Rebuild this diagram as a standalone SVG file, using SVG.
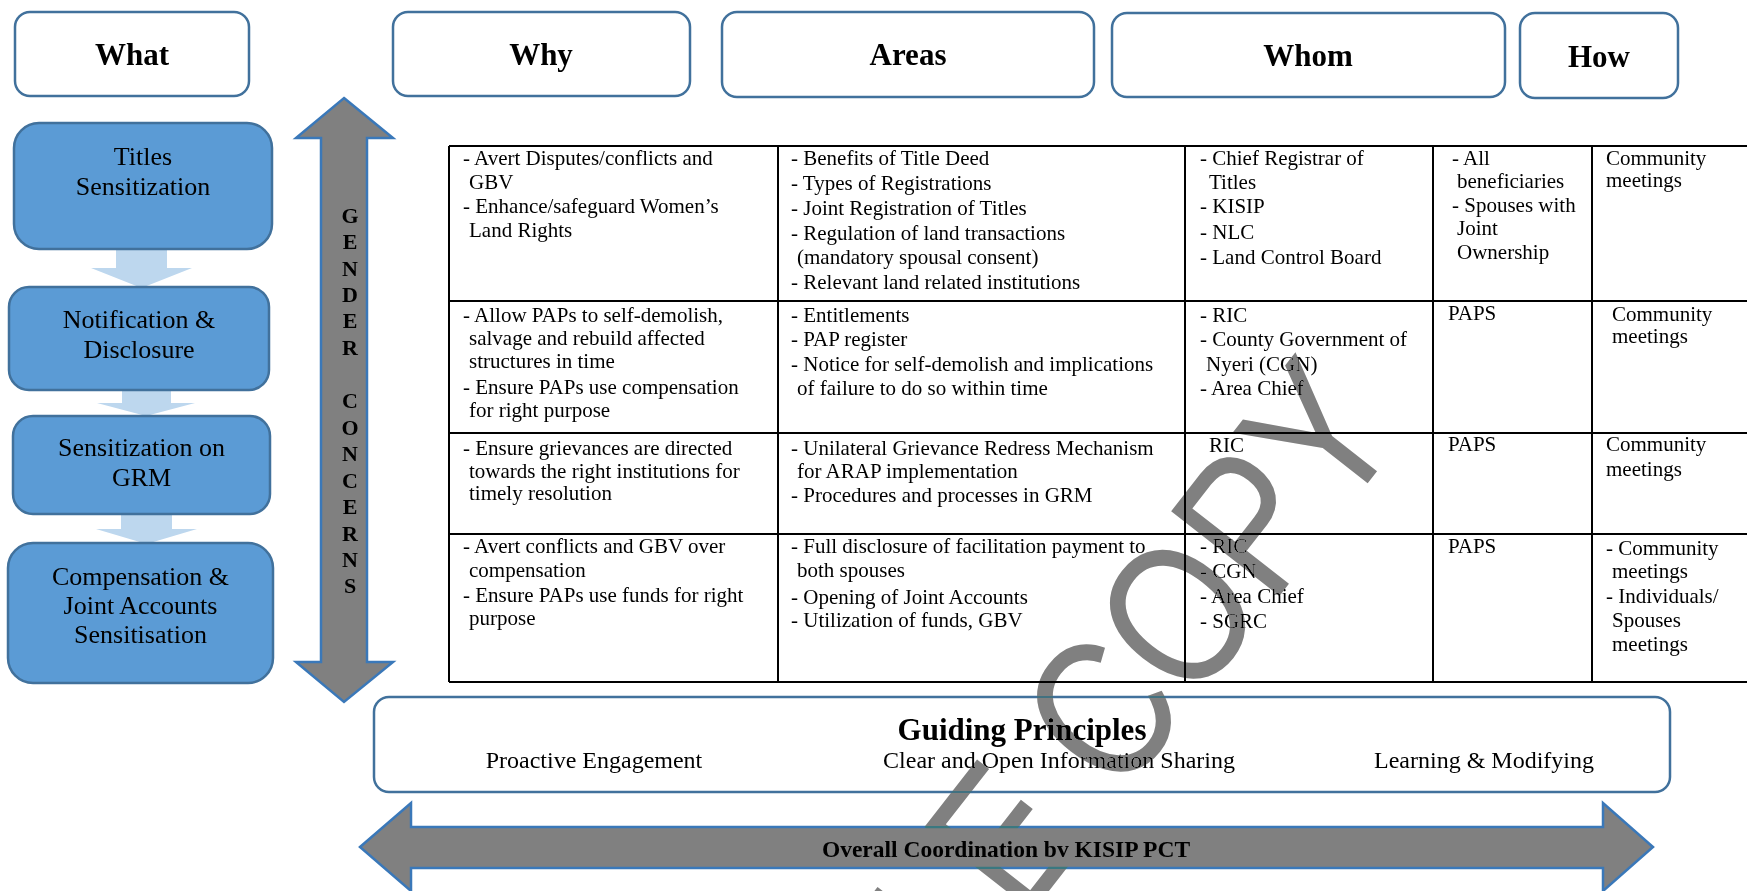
<svg xmlns="http://www.w3.org/2000/svg" width="1747" height="891" viewBox="0 0 1747 891">
  <style>
    .hdr { fill: #ffffff; stroke: #41719C; stroke-width: 2.5; }
    .hdr-t { font-family: "Liberation Serif", "Times New Roman", serif; font-size: 31px; font-weight: bold; text-anchor: middle; fill: #000; }
    .step { fill: #5B9BD5; stroke: #41719C; stroke-width: 2.5; }
    .step-t { font-family: "Liberation Serif", "Times New Roman", serif; font-size: 26px; text-anchor: middle; fill: #000; }
    .flow { fill: #BDD7EE; stroke: none; }
    .big-arrow { fill: #808080; stroke: #3A78B9; stroke-width: 2.5; stroke-linejoin: miter; }
    .vert-t { font-family: "Liberation Serif", "Times New Roman", serif; font-size: 22px; font-weight: bold; text-anchor: middle; fill: #000; }
    .grid { stroke: #000; stroke-width: 2; fill: none; }
    .cell { font-family: "Liberation Serif", "Times New Roman", serif; font-size: 21px; fill: #000; }
    .gp-title { font-family: "Liberation Serif", "Times New Roman", serif; font-size: 31px; font-weight: bold; text-anchor: middle; fill: #000; }
    .gp-t { font-family: "Liberation Serif", "Times New Roman", serif; font-size: 24px; text-anchor: middle; fill: #000; }
    .coord-t { font-family: "Liberation Serif", "Times New Roman", serif; font-size: 23.5px; font-weight: bold; text-anchor: middle; fill: #000; }
    .stamp { font-family: "Liberation Sans", Arial, sans-serif; font-size: 200px; fill: #808080; text-anchor: end; mix-blend-mode: darken; }
  </style>

  <rect x="0" y="0" width="1747" height="891" fill="#ffffff"/>

  <!-- column headers -->
  <g id="hdr-what"><rect class="hdr" x="15" y="12" width="234" height="84" rx="15"/><text class="hdr-t" x="132" y="65">What</text></g>
  <g id="hdr-why"><rect class="hdr" x="393" y="12" width="297" height="84" rx="15"/><text class="hdr-t" x="541" y="65">Why</text></g>
  <g id="hdr-areas"><rect class="hdr" x="722" y="12" width="372" height="85" rx="15"/><text class="hdr-t" x="908" y="65">Areas</text></g>
  <g id="hdr-whom"><rect class="hdr" x="1112" y="13" width="393" height="84" rx="15"/><text class="hdr-t" x="1308" y="66">Whom</text></g>
  <g id="hdr-how"><rect class="hdr" x="1520" y="13" width="158" height="85" rx="15"/><text class="hdr-t" x="1599" y="67">How</text></g>

  <!-- flow arrows between the steps -->
  <g id="connectors">
    <polygon class="flow" points="116,249 167,249 167,268 192,268 141.5,288 91,268 116,268"/>
    <polygon class="flow" points="122,390 171,390 171,403 195,403 146,416 97,403 122,403"/>
    <polygon class="flow" points="121,514 172,514 172,529 197,529 146.5,544 96,529 121,529"/>
  </g>

  <!-- steps -->
  <g id="step-titles"><rect class="step" x="14" y="123" width="258" height="126" rx="25"/>
    <text class="step-t" x="143" y="165">Titles</text><text class="step-t" x="143" y="195">Sensitization</text></g>
  <g id="step-notification"><rect class="step" x="9" y="287" width="260" height="103" rx="20"/>
    <text class="step-t" x="139" y="328">Notification &amp;</text><text class="step-t" x="139" y="358">Disclosure</text></g>
  <g id="step-grm"><rect class="step" x="13" y="416" width="257" height="98" rx="20"/>
    <text class="step-t" x="141.5" y="456">Sensitization on</text><text class="step-t" x="141.5" y="486">GRM</text></g>
  <g id="step-compensation"><rect class="step" x="8" y="543" width="265" height="140" rx="25"/>
    <text class="step-t" x="140.5" y="585">Compensation &amp;</text><text class="step-t" x="140.5" y="614">Joint Accounts</text><text class="step-t" x="140.5" y="643">Sensitisation</text></g>

  <!-- gender concerns double arrow -->
  <g id="gender-concerns">
    <polygon class="big-arrow" points="344,98 393,138 367,138 367,662 393,662 344,702 296,662 321,662 321,138 296,138"/>
    <text class="vert-t" x="350" y="223">G</text>
    <text class="vert-t" x="350" y="249">E</text>
    <text class="vert-t" x="350" y="276">N</text>
    <text class="vert-t" x="350" y="302">D</text>
    <text class="vert-t" x="350" y="328">E</text>
    <text class="vert-t" x="350" y="355">R</text>
    <text class="vert-t" x="350" y="408">C</text>
    <text class="vert-t" x="350" y="435">O</text>
    <text class="vert-t" x="350" y="461">N</text>
    <text class="vert-t" x="350" y="488">C</text>
    <text class="vert-t" x="350" y="514">E</text>
    <text class="vert-t" x="350" y="541">R</text>
    <text class="vert-t" x="350" y="567">N</text>
    <text class="vert-t" x="350" y="593">S</text>
  </g>

  <!-- activity table -->
  <g id="table">
    <path class="grid" d="M449,146 H1750 M449,301 H1750 M449,433 H1750 M449,534 H1750 M449,682 H1750 M449,146 V682 M778,146 V682 M1185,146 V682 M1433,146 V682 M1592,146 V682"/>
    <g class="cell">
      <!-- row 1 -->
      <text x="463" y="165">- Avert Disputes/conflicts and</text>
      <text x="469" y="189">GBV</text>
      <text x="463" y="213">- Enhance/safeguard Women’s</text>
      <text x="469" y="237">Land Rights</text>
      <text x="791" y="165">- Benefits of Title Deed</text>
      <text x="791" y="190">- Types of Registrations</text>
      <text x="791" y="215">- Joint Registration of Titles</text>
      <text x="791" y="240">- Regulation of land transactions</text>
      <text x="797" y="264">(mandatory spousal consent)</text>
      <text x="791" y="289">- Relevant land related institutions</text>
      <text x="1200" y="165">- Chief Registrar of</text>
      <text x="1209" y="189">Titles</text>
      <text x="1200" y="213">- KISIP</text>
      <text x="1200" y="239">- NLC</text>
      <text x="1200" y="264">- Land Control Board</text>
      <text x="1452" y="165">- All</text>
      <text x="1457" y="188">beneficiaries</text>
      <text x="1452" y="212">- Spouses with</text>
      <text x="1457" y="235">Joint</text>
      <text x="1457" y="259">Ownership</text>
      <text x="1606" y="165">Community</text>
      <text x="1606" y="187">meetings</text>
      <!-- row 2 -->
      <text x="463" y="322">- Allow PAPs to self-demolish,</text>
      <text x="469" y="345">salvage and rebuild affected</text>
      <text x="469" y="368">structures in time</text>
      <text x="463" y="394">- Ensure PAPs use compensation</text>
      <text x="469" y="417">for right purpose</text>
      <text x="791" y="322">- Entitlements</text>
      <text x="791" y="346">- PAP register</text>
      <text x="791" y="371">- Notice for self-demolish and implications</text>
      <text x="797" y="395">of failure to do so within time</text>
      <text x="1200" y="322">- RIC</text>
      <text x="1200" y="346">- County Government of</text>
      <text x="1206" y="371">Nyeri (CGN)</text>
      <text x="1200" y="395">- Area Chief</text>
      <text x="1448" y="320">PAPS</text>
      <text x="1612" y="321">Community</text>
      <text x="1612" y="343">meetings</text>
      <!-- row 3 -->
      <text x="463" y="455">- Ensure grievances are directed</text>
      <text x="469" y="478">towards the right institutions for</text>
      <text x="469" y="500">timely resolution</text>
      <text x="791" y="455">- Unilateral Grievance Redress Mechanism</text>
      <text x="797" y="478">for ARAP implementation</text>
      <text x="791" y="502">- Procedures and processes in GRM</text>
      <text x="1209" y="452">RIC</text>
      <text x="1448" y="451">PAPS</text>
      <text x="1606" y="451">Community</text>
      <text x="1606" y="476">meetings</text>
      <!-- row 4 -->
      <text x="463" y="553">- Avert conflicts and GBV over</text>
      <text x="469" y="577">compensation</text>
      <text x="463" y="602">- Ensure PAPs use funds for right</text>
      <text x="469" y="625">purpose</text>
      <text x="791" y="553">- Full disclosure of facilitation payment to</text>
      <text x="797" y="577">both spouses</text>
      <text x="791" y="604">- Opening of Joint Accounts</text>
      <text x="791" y="627">- Utilization of funds, GBV</text>
      <text x="1200" y="553">- RIC</text>
      <text x="1200" y="578">- CGN</text>
      <text x="1200" y="603">- Area Chief</text>
      <text x="1200" y="628">- SGRC</text>
      <text x="1448" y="553">PAPS</text>
      <text x="1606" y="555">- Community</text>
      <text x="1612" y="578">meetings</text>
      <text x="1606" y="603">- Individuals/</text>
      <text x="1612" y="627">Spouses</text>
      <text x="1612" y="651">meetings</text>
    </g>
  </g>

  <!-- guiding principles -->
  <g id="guiding-principles">
    <rect class="hdr" x="374" y="697" width="1296" height="95" rx="15"/>
    <text class="gp-title" x="1022" y="740">Guiding Principles</text>
    <text class="gp-t" x="594" y="768">Proactive Engagement</text>
    <text class="gp-t" x="1059" y="768">Clear and Open Information Sharing</text>
    <text class="gp-t" x="1484" y="768">Learning &amp; Modifying</text>
  </g>

  <!-- overall coordination double arrow -->
  <g id="coordination">
    <polygon class="big-arrow" points="360,847 411,803 411,827 1603,827 1603,803 1653,847 1603,891 1603,868 411,868 411,891"/>
    <text class="coord-t" x="1006" y="857">Overall Coordination bv KISIP PCT</text>
  </g>

  <!-- stamp -->
  <text class="stamp" transform="translate(1406,434) rotate(-52) scale(0.82,1)">SAMPLE COPY</text>
</svg>
